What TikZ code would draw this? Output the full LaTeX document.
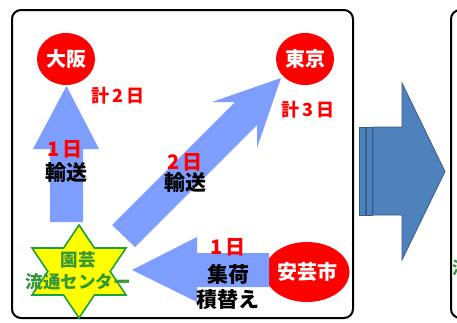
\documentclass[tikz,border=0pt]{standalone}
\usepackage{fontspec}
\newfontfamily\jp{Noto Sans CJK JP}
\usetikzlibrary{shapes.geometric}
\definecolor{arrowblue}{RGB}{125,158,255}
\definecolor{bigblue}{RGB}{79,129,189}
\definecolor{bigedge}{RGB}{56,93,138}
\definecolor{stargreen}{RGB}{30,160,60}
\definecolor{textgreen}{RGB}{52,150,52}
\definecolor{staryellow}{RGB}{255,255,0}
\tikzset{
  frame/.style={draw=black, line width=2pt, rounded corners=9pt},
  circ/.style={ellipse, fill=red, text=white, inner sep=0pt,
    minimum width=58pt, minimum height=52pt,
    font=\jp\bfseries\fontsize{20}{20}\selectfont},
  flow/.style={fill=arrowblue, draw=none},
  bigarrow/.style={fill=bigblue, draw=bigedge, line width=0.8pt},
  redlbl/.style={text=red, inner sep=0pt, font=\jp\bfseries\fontsize{18}{18}\selectfont},
  daylbl/.style={text=red, inner sep=0pt, font=\jp\bfseries\fontsize{20}{20}\selectfont},
  blklbl/.style={text=black, inner sep=0pt, font=\jp\bfseries\fontsize{21}{21}\selectfont},
  starshape/.style={fill=staryellow, draw=stargreen, line width=1.6pt, line join=miter},
  startext/.style={text=textgreen, inner sep=0pt, align=center,
    font=\jp\bfseries\fontsize{17.5}{22}\selectfont},
}
\begin{document}
\begin{tikzpicture}[x=1pt,y=-1pt]
\useasboundingbox (0,0) rectangle (457,322);
\begin{scope}
\clip (0,0) rectangle (457,322);
% frames
\draw[frame] (12,10) rectangle (353,318);
\draw[frame] (451,10) rectangle (480,318);
\node[text=textgreen, inner sep=0pt, anchor=west,
  font=\jp\bfseries\fontsize{17}{17}\selectfont] (ryu) at (452,268) {流};
\end{scope}

% big transition arrow
\fill[bigblue, draw=bigedge, line width=0.6pt] (359,127) rectangle (365,215);
\fill[bigblue, draw=bigedge, line width=0.6pt] (366,127) rectangle (372,215);
\draw[bigarrow] (373,127) -- (402,127) -- (402,83) -- (445,171.5)
  -- (402,260) -- (402,215) -- (373,215) -- cycle;

% circles
\node[circ] (osaka) at (66,59) {大阪};
\node[circ] (tokyo) at (305,59) {東京};
\node[circ, minimum width=71pt, minimum height=60pt] (aki) at (307,272) {安芸市};

% flow arrows
\fill[flow] (50,222) -- (50,149) -- (33,149) -- (66.5,86) -- (99,149)
  -- (83,149) -- (83,222) -- cycle;
\fill[flow] (112,225) -- (235,102) -- (212,102) -- (281,78) -- (257,148)
  -- (257,125) -- (135,247) -- cycle;
\fill[flow] (269,253) -- (197,253) -- (197,237) -- (132,270) -- (197,302)
  -- (197,287) -- (269,287) -- cycle;

% star
\draw[starshape] (79,225) -- (94.4,248) -- (126,248) -- (110.2,271.5)
  -- (126,295) -- (94.4,295) -- (79,318) -- (63.6,295) -- (32,295)
  -- (47.8,271.5) -- (32,248) -- (63.6,248) -- cycle;
\node[startext] (center) at (78,271) {園芸\\流通センター};

% labels
\node[redlbl] (tot2) at (118,96) {計\kern3pt 2\kern3pt 日};
\node[redlbl] (tot3) at (308,110) {計\kern3pt 3\kern3pt 日};
\node[daylbl] (d1a) at (65,149) {1\kern3pt 日};
\node[blklbl] (t1) at (66,173) {輸送};
\node[daylbl] (d2) at (185,162) {2\kern3pt 日};
\node[blklbl] (t2) at (185,183) {輸送};
\node[daylbl] (d1b) at (228,247) {1\kern3pt 日};
\node[blklbl] (c1) at (228,274) {集荷};
\node[blklbl] (c2) at (228,300) {積替え};
\end{tikzpicture}
\end{document}
